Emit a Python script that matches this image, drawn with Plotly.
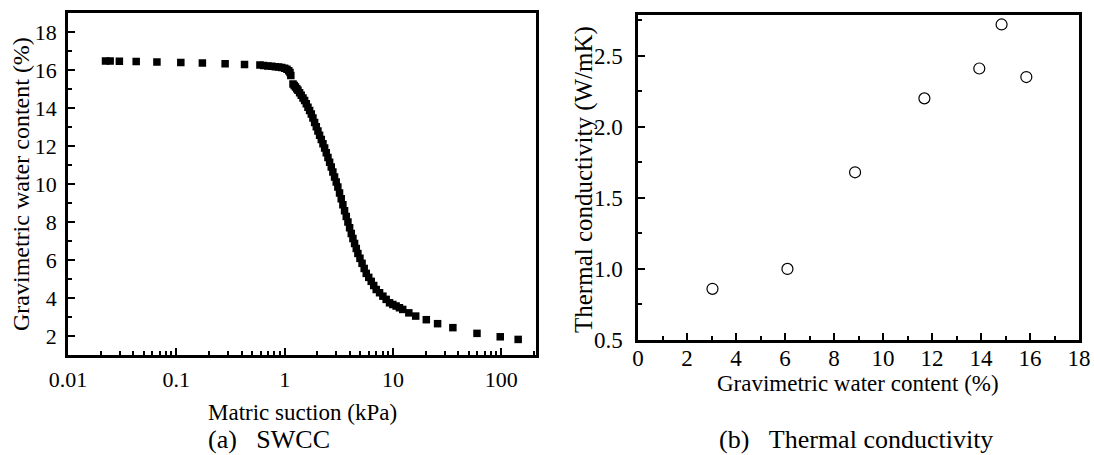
import plotly.graph_objects as go

# ---------------- data ----------------
# (a) SWCC: matric suction (kPa) vs gravimetric water content (%)
suction = [0.0222, 0.0245, 0.0298, 0.0426, 0.0662, 0.110, 0.174, 0.282, 0.426, 0.591,
           0.64, 0.70, 0.76, 0.82, 0.88, 0.94, 1.00, 1.05, 1.09, 1.12, 1.14,
           1.194, 1.226, 1.259, 1.293, 1.327, 1.374, 1.422, 1.476,
           1.528, 1.583, 1.641, 1.700, 1.762, 1.824, 1.890, 1.959,
           2.028, 2.101, 2.178, 2.257, 2.339, 2.421, 2.509, 2.600,
           2.692, 2.786, 2.887, 2.992, 3.097, 3.211, 3.327, 3.447,
           3.573, 3.703, 3.837, 3.976, 4.121, 4.266, 4.421, 4.581,
           4.742, 4.955, 5.182, 5.420, 5.662, 5.970, 6.295, 6.637,
           6.998, 7.516, 8.064, 8.650, 9.290, 9.966, 10.69, 11.47, 12.30,
           14.0, 16.2, 20.3, 25.8, 35.7, 59.6, 97.7, 143.0]
water_content = [16.49, 16.49, 16.48, 16.46, 16.44, 16.41, 16.38, 16.34, 16.30, 16.27,
                 16.25, 16.23, 16.21, 16.19, 16.17, 16.14, 16.10, 16.05, 15.98, 15.88, 15.72,
                 15.28, 15.20, 15.12, 15.03, 14.95, 14.81, 14.68, 14.54,
                 14.40, 14.23, 14.05, 13.88, 13.70, 13.48, 13.25, 13.03,
                 12.80, 12.58, 12.35, 12.13, 11.90, 11.65, 11.40, 11.15,
                 10.90, 10.64, 10.38, 10.11, 9.85, 9.54, 9.23, 8.91,
                 8.60, 8.30, 8.00, 7.70, 7.40, 7.14, 6.87, 6.61,
                 6.35, 6.09, 5.83, 5.56, 5.30, 5.09, 4.88, 4.66,
                 4.45, 4.28, 4.10, 3.93, 3.75, 3.66, 3.58, 3.49, 3.40,
                 3.22, 3.05, 2.86, 2.65, 2.44, 2.14, 1.96, 1.82]

# (b) Thermal conductivity vs gravimetric water content
gwc = [3.04, 6.10, 8.86, 11.69, 13.93, 14.84, 15.85]
conductivity = [0.86, 1.00, 1.68, 2.20, 2.41, 2.72, 2.35]

log_tickvals = [0.01, 0.1, 1, 10, 100]
log_ticktext = ["0.01", "0.1", "1", "10", "100"]
left_yticks = [2, 4, 6, 8, 10, 12, 14, 16, 18]
right_xticks = [0, 2, 4, 6, 8, 10, 12, 14, 16, 18]
right_yticks = [0.5, 1.0, 1.5, 2.0, 2.5]
right_yticktext = ["0.5", "1.0", "1.5", "2.0", "2.5"]

# ---------------- figure ----------------
W, H = 1094, 455
FONT = "Liberation Serif, Times New Roman, serif"

def px(x):
    return x / W

def py(y):
    return 1 - y / H

fig = go.Figure()

fig.add_trace(go.Scatter(
    x=suction, y=water_content, mode="markers",
    marker=dict(symbol="square", size=7.5, color="black", line=dict(width=0)),
    xaxis="x", yaxis="y", showlegend=False))

fig.add_trace(go.Scatter(
    x=gwc, y=conductivity, mode="markers",
    marker=dict(symbol="circle-open", size=11, color="black", line=dict(width=1.2, color="black")),
    xaxis="x2", yaxis="y2", showlegend=False))

axis_common = dict(showline=True, linecolor="black", linewidth=2.5, mirror=True,
                   ticks="inside", tickcolor="black", tickwidth=2, ticklen=7,
                   showgrid=False, zeroline=False, automargin=False)

def tf(size):
    return dict(family=FONT, size=size, color="black")

fig.update_layout(
    width=W, height=H,
    margin=dict(l=0, r=0, t=0, b=0, autoexpand=False),
    paper_bgcolor="white", plot_bgcolor="white",
    font=dict(family=FONT, color="black"),
    xaxis=dict(domain=[px(68), px(536)], type="log", range=[-2, 2.32],
               tickvals=log_tickvals, ticktext=log_ticktext,
               tickfont=tf(22), ticklabelstandoff=3,
               minor=dict(dtick="D1", ticks="inside", ticklen=4, tickwidth=1.5, tickcolor="black"),
               anchor="y", **axis_common),
    yaxis=dict(domain=[py(355), py(13.3)], range=[1, 19],
               tickvals=left_yticks, tickfont=tf(22), ticklabelstandoff=4,
               minor=dict(dtick=1, ticks="inside", ticklen=4, tickwidth=1.5, tickcolor="black"),
               anchor="x", **axis_common),
    xaxis2=dict(domain=[px(638), px(1079)], range=[0, 18],
                tickvals=right_xticks, tickfont=tf(23), ticklabelstandoff=-4,
                minor=dict(dtick=1, ticks="inside", ticklen=4, tickwidth=1.5, tickcolor="black"),
                anchor="y2", **axis_common),
    yaxis2=dict(domain=[py(340), py(14.5)], range=[0.5, 2.79],
                tickvals=right_yticks, ticktext=right_yticktext,
                tickfont=tf(23), ticklabelstandoff=8,
                minor=dict(dtick=0.25, ticks="inside", ticklen=4, tickwidth=1.5, tickcolor="black"),
                anchor="x2", **axis_common),
)

ann = []
ann.append(dict(text="Matric suction (kPa)", x=px(302), y=py(412), xref="paper", yref="paper",
                xanchor="center", yanchor="middle", showarrow=False, font=tf(23)))
ann.append(dict(text="Gravimetric water content (%)", x=px(21), y=py(184), xref="paper", yref="paper",
                xanchor="center", yanchor="middle", textangle=-90, showarrow=False, font=tf(24)))
ann.append(dict(text="(a)\u00a0\u00a0\u00a0SWCC", x=px(206), y=py(439), xref="paper", yref="paper",
                xanchor="left", yanchor="middle", showarrow=False, font=tf(26)))
ann.append(dict(text="Gravimetric water content (%)", x=px(858), y=py(383), xref="paper", yref="paper",
                xanchor="center", yanchor="middle", showarrow=False, font=tf(23)))
ann.append(dict(text="Thermal conductivity (W/mK)", x=px(584), y=py(180), xref="paper", yref="paper",
                xanchor="center", yanchor="middle", textangle=-90, showarrow=False, font=tf(25)))
ann.append(dict(text="(b)\u00a0\u00a0\u00a0Thermal conductivity", x=px(717), y=py(439), xref="paper", yref="paper",
                xanchor="left", yanchor="middle", showarrow=False, font=tf(26)))
fig.update_layout(annotations=ann)

fig.write_html("out.html",
               config={"displayModeBar": False},
               post_script="document.body.style.margin='0';document.body.style.overflow='hidden';")
